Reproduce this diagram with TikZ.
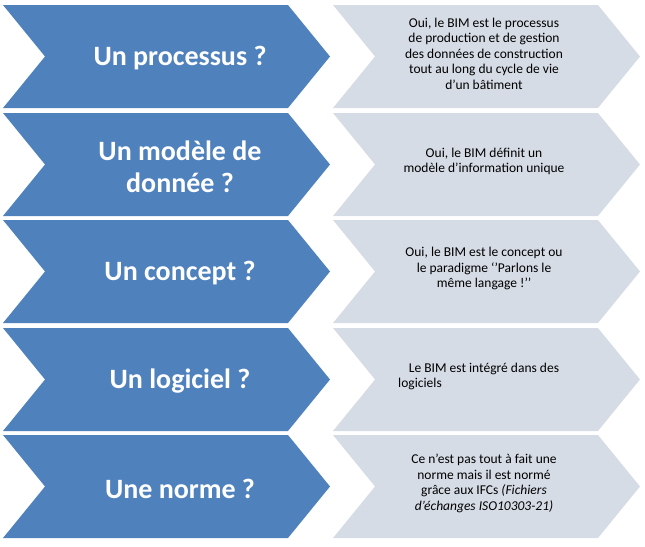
\documentclass[tikz,border=0pt]{standalone}
\usepackage{fontspec}
\setmainfont{Carlito}
\definecolor{bblue}{HTML}{4F81BD}
\definecolor{lgrey}{HTML}{D6DCE5}
\begin{document}
\begin{tikzpicture}[x=1pt,y=-1pt,
  qtext/.style={text=white,font=\bfseries\fontsize{28}{32}\selectfont,align=center},
  atext/.style={text=black,font=\fontsize{13.5}{15.5}\selectfont,align=center}]
\useasboundingbox (0,0) rectangle (645,546);
\foreach \t/\q/\a [count=\i] in {
  5/{Un processus ?}/{Oui, le BIM est le processus\\de production  et de gestion\\des données de construction\\tout au long du cycle de vie\\d'un bâtiment},
  113/{Un modèle de\\donnée ?}/{Oui,  le BIM définit un\\modèle d’information  unique},
  220/{Un concept ?}/{Oui, le BIM est le concept ou\\le paradigme ‘’Parlons le\\même langage !’’},
  328/{Un logiciel ?}/{Le BIM est intégré dans des\\logiciels\phantom{Le BIM est intégré dans}},
  435/{Une norme ?}/{Ce n’est pas tout à fait une\\norme  mais il est normé\\grâce aux IFCs \textit{(Fichiers}\\\textit{d’échanges ISO10303-21)}}} {
  \pgfmathsetmacro{\b}{\t+103}
  \pgfmathsetmacro{\m}{\t+51.5}
  \fill[bblue] (3,\t) -- (288,\t) -- (330,\m) -- (288,\b) -- (3,\b) -- (45,\m) -- cycle;
  \fill[lgrey] (333,\t) -- (598,\t) -- (640,\m) -- (598,\b) -- (333,\b) -- (375,\m) -- cycle;
  \node[qtext] (q\i) at (180,\m+2) {\q};
  \node[atext] (a\i) at (484,\m-3) {\a};
}
\end{tikzpicture}
\end{document}
